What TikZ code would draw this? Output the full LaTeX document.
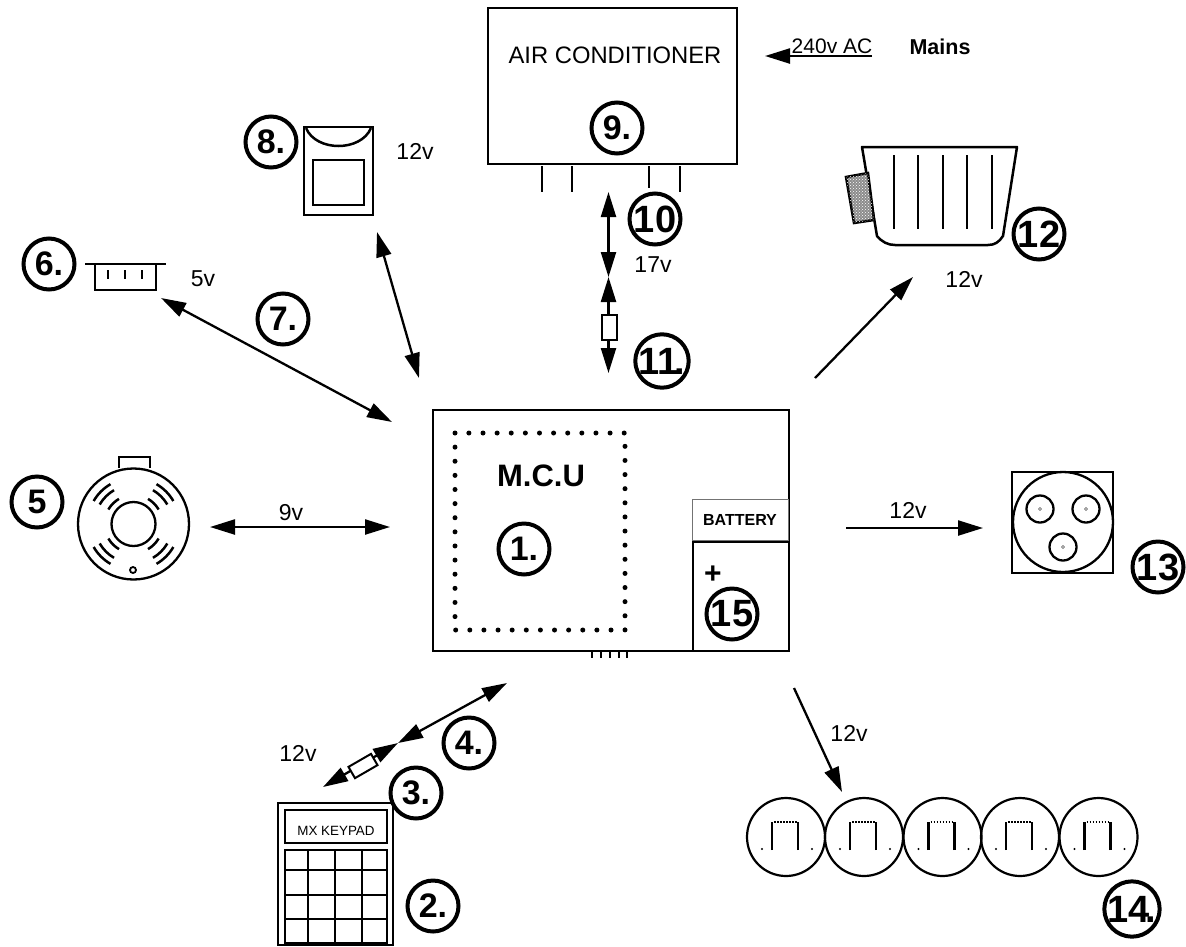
\documentclass[tikz,border=0pt]{standalone}
\usepackage{fontspec}
\setmainfont{Liberation Sans}
\usetikzlibrary{arrows.meta,patterns,shapes.geometric}

\begin{document}
\begin{tikzpicture}[
  x=1pt, y=-1pt,
  badge/.style={circle, draw=black, line width=4pt, minimum size=51pt, inner sep=0pt, font=\fontsize{34}{34}\selectfont\bfseries},
  bigbadge/.style={badge, font=\fontsize{38}{38}\selectfont\bfseries},
  box/.style={rectangle, draw=black, line width=2.5pt, inner sep=0pt},
  thinbox/.style={rectangle, draw=black, line width=2.2pt, inner sep=0pt},
  volt/.style={inner sep=0pt, font=\fontsize{23}{23}\selectfont},
  link/.style={line width=2.3pt, {Triangle[length=25pt,width=15pt]}-{Triangle[length=25pt,width=15pt]}},
  feed/.style={line width=2.3pt, -{Triangle[length=25pt,width=15pt]}},
  wire/.style={line width=2.5pt},
  >=Stealth
]
\useasboundingbox (0,0) rectangle (1186,946);

% main unit
\node[box, minimum width=356pt, minimum height=241pt] (mcu) at (611,530.5) {};
\node[inner sep=0pt, font=\fontsize{31}{31}\selectfont\bfseries] (mcutext) at (541,476) {M.C.U};
\draw[line width=5pt, line cap=round, dash pattern=on 0pt off 14.12pt] (455,433) rectangle (625,630);
\node[rectangle, draw=black!55, line width=1pt, minimum width=96pt, minimum height=41pt, inner sep=0pt, font=\fontsize{16}{16}\selectfont\bfseries] (battery) at (740,519.5) {BATTERY};
\node[box, minimum width=96pt, minimum height=109pt] (cell) at (741,596.5) {};
\node[inner sep=0pt, font=\fontsize{30}{30}\selectfont\bfseries] (plus) at (713,575) {+};
\foreach \px in {592,601,610,619,627} \draw[wire] (\px,652) -- (\px,658);

% air conditioner
\node[box, minimum width=249pt, minimum height=156pt] (ac) at (612.5,86) {};
\node[inner sep=0pt, font=\fontsize{23.8}{24}\selectfont] (actext) at (615,55) {AIR CONDITIONER};
\foreach \px in {542,572,680} \draw[wire] (\px,166) -- (\px,192);
\draw[wire] (649,166) -- (649,188);
\node[inner sep=0pt, font=\fontsize{21}{21}\selectfont] (acv) at (832,46) {240v AC};
\node[inner sep=0pt, font=\fontsize{21.5}{21.5}\selectfont\bfseries] (mains) at (940,47) {Mains};
\coordinate (mainsa) at (872,56);
\coordinate (mainsb) at (765,56);

% pir sensor
\node[box, minimum width=69pt, minimum height=88pt] (pir) at (338.5,171) {};
\node[box, minimum width=51pt, minimum height=45pt] (pirwin) at (338.5,182.5) {};
\draw[wire] (306,128) .. controls (316,152) and (361,152) .. (371,128);
\node[volt] (pirv) at (415,151) {12v};

% sounder
\node[thinbox, minimum width=61pt, minimum height=26pt] (snd) at (125.5,277) {};
\draw[wire] (85,264) -- (166,264);
\foreach \px in {108,125,142} \draw[wire] (\px,270) -- (\px,279);
\node[volt] (sndv) at (203,279) {5v};

% smoke detector
\draw[wire] (119,468) -- (119,457) -- (150,457) -- (150,468);
\node[circle, draw=black, line width=2.3pt, minimum size=111pt, inner sep=0pt] (smoke) at (133.5,524) {};
\node[circle, draw=black, line width=2.3pt, minimum size=44pt, inner sep=0pt] (smokein) at (133.5,524) {};
\node[circle, draw=black, line width=1.8pt, minimum size=6pt, inner sep=0pt] (smokedot) at (133,570) {};
\foreach \ang in {45,135,225,315}
  \foreach \rad in {29,39,46}
    \draw[wire] ([shift={(\ang-15:\rad)}]smoke.center) arc (\ang-15:\ang+15:\rad);
\node[volt] (smokev) at (291,513) {9v};

% motor
\draw[wire, line join=round] (862,147) -- (877,236) .. controls (882,242) and (888,245) .. (895,245) -- (988,245) .. controls (995,245) and (999,242) .. (1003,236) -- (1017,147) -- cycle;
\foreach \px in {894,918,943,967,992} \draw[wire] (\px,155) -- (\px,229);
\draw[wire, fill=black!45, postaction={pattern=crosshatch dots, pattern color=white}] (846,177) -- (868,173) -- (874,220) -- (854,223) -- cycle;
\node[volt] (motorv) at (964,279) {12v};

% socket
\node[box, minimum width=101pt, minimum height=101pt] (sock) at (1062.5,522.5) {};
\node[circle, draw=black, line width=2.3pt, minimum size=100pt, inner sep=0pt] (sockc) at (1063,522) {};
\foreach \px/\py/\nm in {1040/509/a,1086/509/b,1063/547/c} {
  \node[circle, draw=black, line width=2.3pt, minimum size=27pt, inner sep=0pt] (sock\nm) at (\px,\py) {};
  \node[circle, draw=black!70, line width=.6pt, minimum size=3pt, inner sep=0pt] (hole\nm) at (\px,\py) {};
}
\node[volt] (sockv) at (908,510) {12v};

% lamps
\foreach \cx [count=\i] in {786,864,942.5,1020,1098.5} {
  \node[circle, draw=black, line width=2.2pt, minimum size=78pt, inner sep=0pt] (lamp\i) at (\cx,837) {};
  \draw[wire] (\cx-14,850) -- (\cx-14,822);
  \draw[wire] (\cx+12,850) -- (\cx+12,822);
  \draw[line width=1.8pt, dash pattern=on 1.5pt off 1.5pt] (\cx-12,822) -- (\cx+12,822);
  \fill (\cx-24,849) circle (1.1pt);
  \fill (\cx+26,849) circle (1.1pt);
}
\node[volt] (lampv) at (849,733) {12v};

% keypad
\node[box, minimum width=115pt, minimum height=142pt] (pad) at (335.5,874) {};
\node[box, minimum width=102pt, minimum height=33pt] (padbox) at (336,826.5) {};
\node[inner sep=0pt, font=\fontsize{13.4}{14}\selectfont] (padtext) at (336,831) {MX KEYPAD};
\draw[wire] (285,850) rectangle (387,943);
\foreach \px in {308,335,362} \draw[wire] (\px,850) -- (\px,943);
\foreach \py in {870,895,919} \draw[wire] (285,\py) -- (387,\py);
\node[volt] (padv) at (298,753) {12v};

% connector ends
\coordinate (pirend) at (377,232);
\coordinate (pirmcu) at (419,378);
\coordinate (sndend) at (161,298);
\coordinate (sndmcu) at (392,422);
\coordinate (smokeend) at (210,527);
\coordinate (smokemcu) at (390,527);
\coordinate (acend) at (608.5,192);
\coordinate (acjoin) at (608.5,277);
\coordinate (acmcu) at (608.5,373);
\coordinate (motormcu) at (815,378);
\coordinate (motorend) at (913,277);
\coordinate (sockmcu) at (846,528);
\coordinate (sockend) at (983,528);
\coordinate (lampmcu) at (794,688);
\coordinate (lampend) at (842,792);
\coordinate (padmcu) at (507,683);
\coordinate (padjoin) at (398,743);
\coordinate (padend) at (323,787);

\draw[feed] (mainsa) -- (mainsb);
\draw[link] (pirend) -- (pirmcu);
\draw[link] (sndend) -- (sndmcu);
\draw[link] (smokeend) -- (smokemcu);
\draw[link] (acend) -- (acjoin);
\draw[link] (acjoin) -- (acmcu);
\draw[feed] (motormcu) -- (motorend);
\draw[feed] (sockmcu) -- (sockend);
\draw[feed] (lampmcu) -- (lampend);
\draw[link] (padmcu) -- (padjoin);
\draw[link] (padjoin) -- (padend);

% fuses
\node[rectangle, draw=black, fill=white, line width=2pt, minimum width=15pt, minimum height=25pt, inner sep=0pt] (fuseac) at (609.5,327.5) {};
\node[rectangle, draw=black, fill=white, line width=2pt, minimum width=26pt, minimum height=13pt, inner sep=0pt, rotate=30] (fusepad) at (363,766) {};

% numbers
\node[badge] (n1) at (524,549) {1.};
\node[badge] (n2) at (433,906) {2.};
\node[badge] (n3) at (416,793) {3.};
\node[badge] (n4) at (469,743) {4.};
\node[badge] (n5) at (37,502) {5};
\node[badge] (n6) at (49,264) {6.};
\node[badge] (n7) at (283,319) {7.};
\node[badge] (n8) at (271,142) {8.};
\node[badge] (n9) at (617,128) {9.};
\node[bigbadge] (n10) at (655,219) {10};
\node[volt] (acv2) at (653,265) {17v};
\node[bigbadge] (n11) at (662,361) {11\kern-4pt.};
\node[bigbadge] (n12) at (1039,234) {12};
\node[bigbadge] (n13) at (1158,567) {13};
\node[bigbadge] (n14) at (1132,909) {14\kern-4pt.};
\node[bigbadge] (n15) at (732,614) {15};
\end{tikzpicture}
\end{document}
